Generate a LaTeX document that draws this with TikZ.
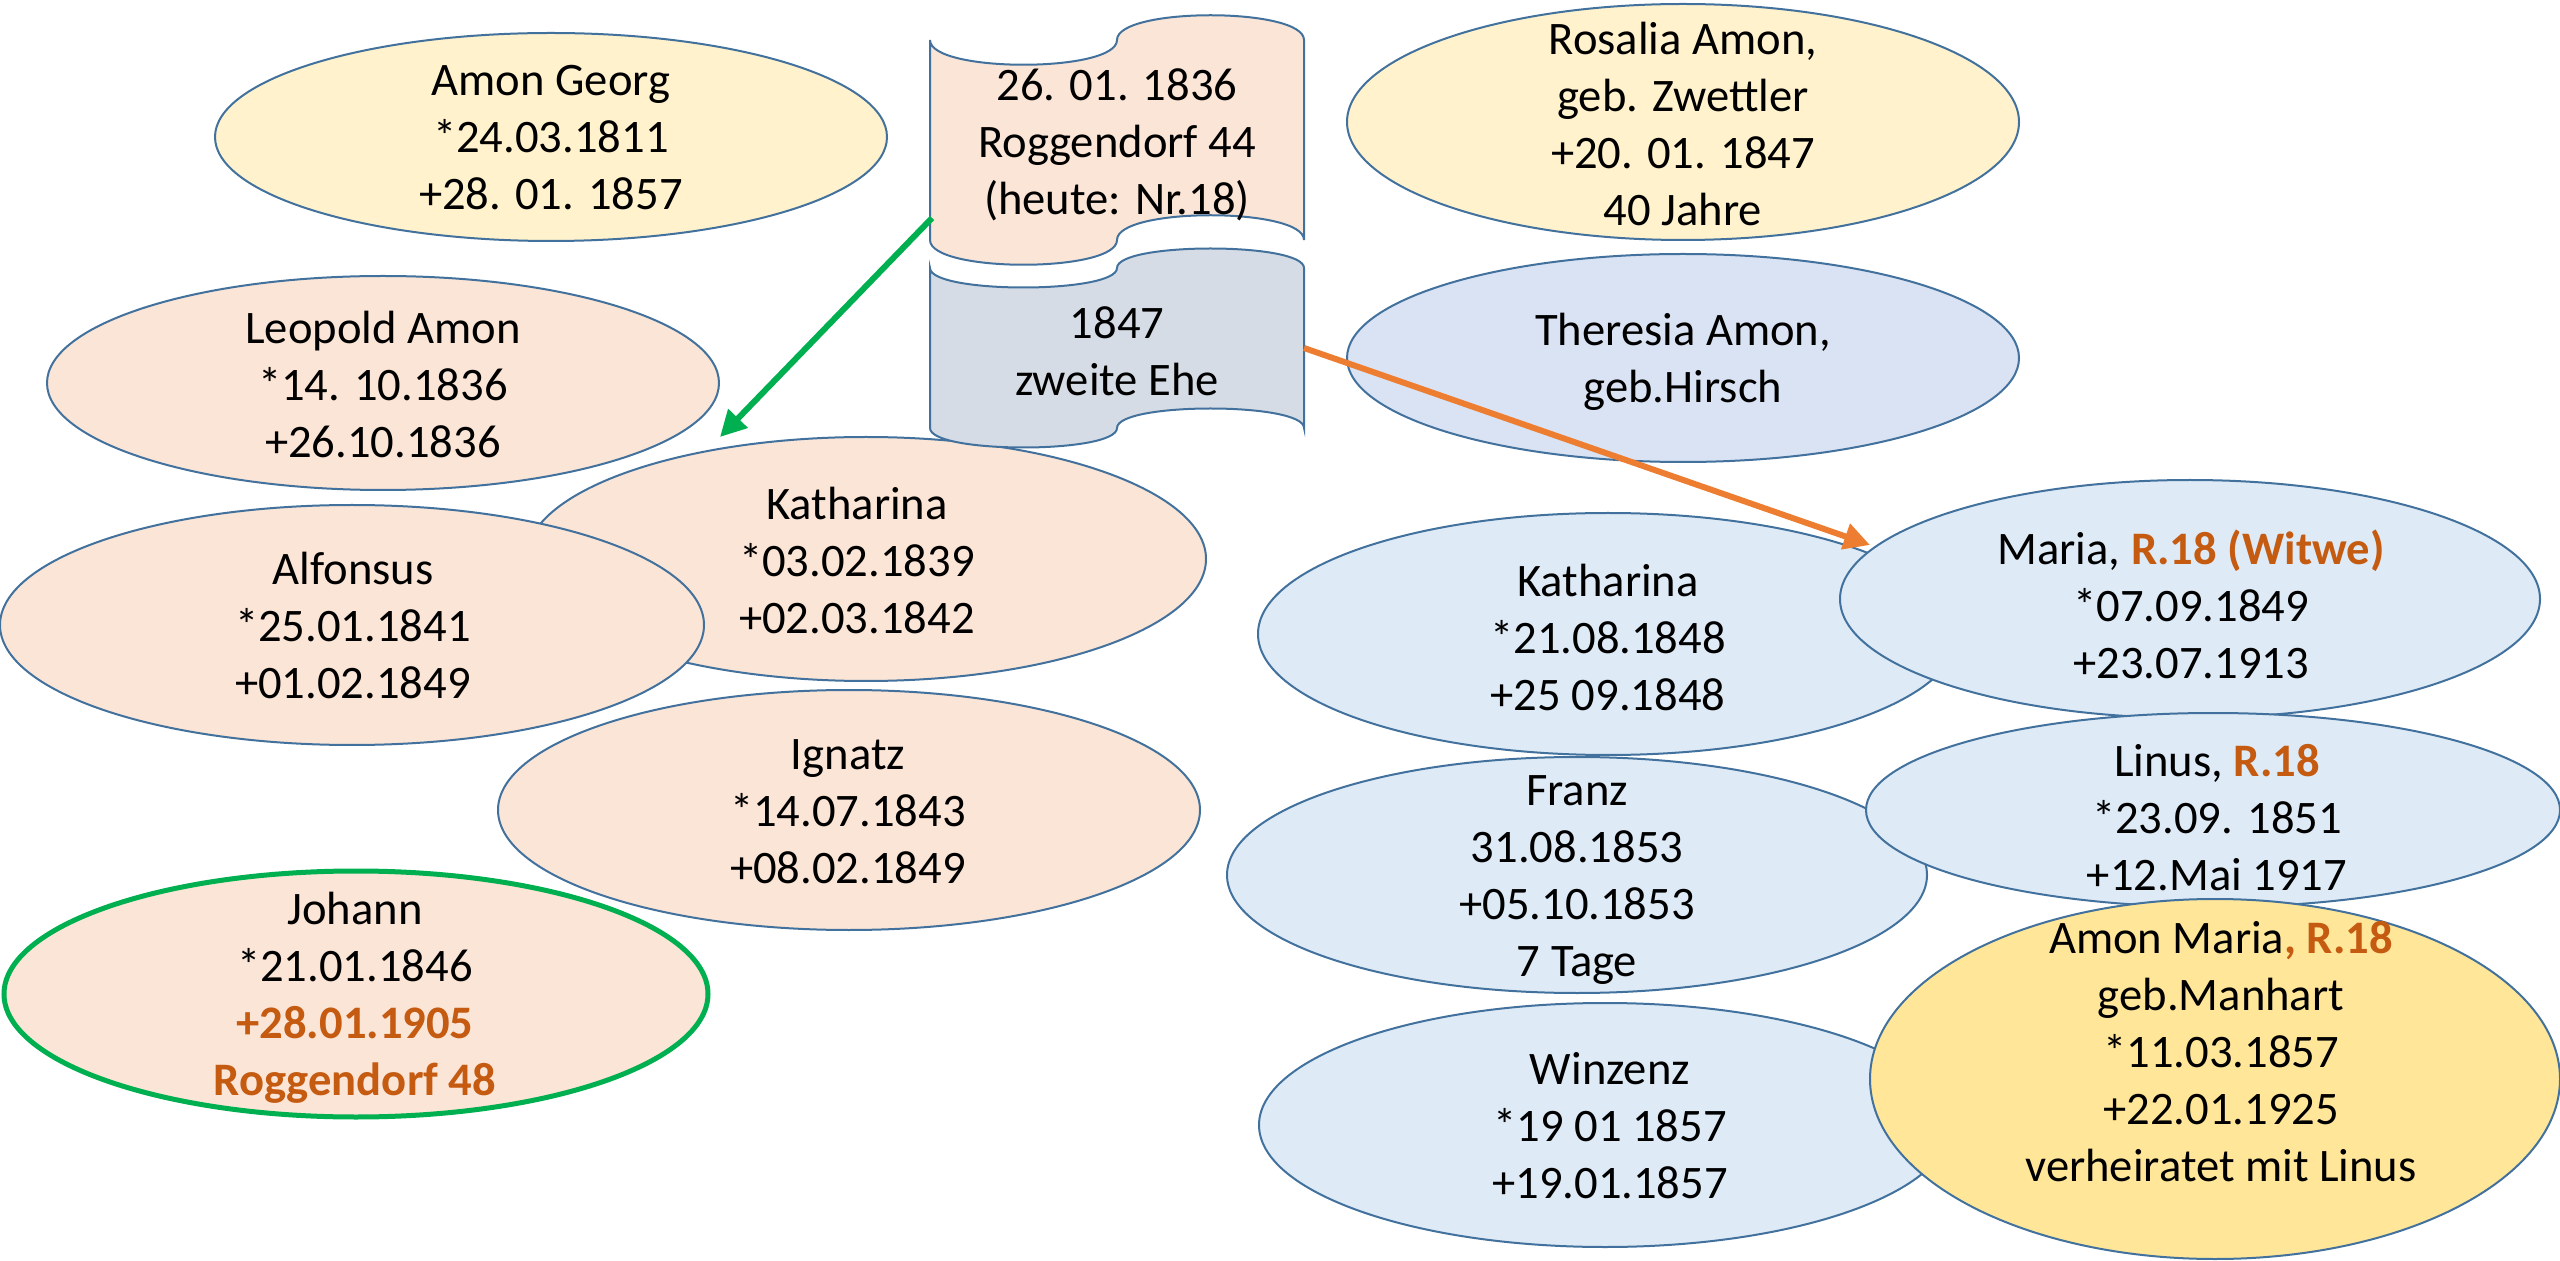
\documentclass[tikz,border=0pt]{standalone}
\usepackage{fontspec}
\setmainfont{Carlito}
\usetikzlibrary{shapes.geometric, arrows.meta}

\definecolor{outl}{HTML}{41719C}
\definecolor{peach}{HTML}{FBE5D6}
\definecolor{cream}{HTML}{FFF2CC}
\definecolor{gold}{HTML}{FFE699}
\definecolor{lav}{HTML}{DAE3F3}
\definecolor{sky}{HTML}{DEEBF7}
\definecolor{slate}{HTML}{D6DCE5}
\definecolor{rust}{HTML}{C55A11}
\definecolor{grn}{HTML}{00B050}
\definecolor{orng}{HTML}{ED7D31}

\newcommand{\hl}[1]{\textbf{\textcolor{rust}{#1}}}

\begin{document}
\begin{tikzpicture}[x=0.5pt, y=-0.5pt,
    person/.style n args={3}{ellipse, draw=outl, line width=1pt, fill=#1,
        minimum width=#2pt, minimum height=#3pt, inner sep=0pt},
    txt/.style={align=center, inner sep=0pt, font=\fontsize{23.3}{28.5}\selectfont},
    tape/.style={draw=outl, line width=1pt},
    link/.style={line width=3pt, -{Triangle[length=13pt, width=13pt]}}]
    \useasboundingbox (0,0) rectangle (2560,1261);

    % Parents
    \node[person={cream}{336}{104}] (georg) at (551,137) {};
    \node[person={cream}{336}{118}] (rosalia) at (1683,122) {};
    \node[person={lav}{336}{104}] (theresia) at (1683,358) {};
    \node[txt] (georg-t) at (551,138) {Amon Georg\\{*}24.03.1811\\+28. 01. 1857};
    \node[txt] (rosalia-t) at (1683,124) {Rosalia Amon,\\ geb. Zwettler\\+20. 01. 1847\\40 Jahre};
    \node[txt] (theresia-t) at (1683,362) {Theresia Amon,\\geb.Hirsch};

    % Children of the first marriage
    \node[person={peach}{336}{107}] (leopold) at (383,383) {};
    \node[person={peach}{340}{122}] (kath1) at (866,559) {};
    \node[person={peach}{352}{120}] (alfonsus) at (352,625) {};
    \node[person={peach}{351}{120}] (ignatz) at (849,810) {};
    \node[person={peach}{352}{123}, draw=grn, line width=2.5pt] (johann) at (356,994) {};
    \node[txt] (leopold-t) at (383,385) {Leopold Amon\\{*}14. 10.1836\\+26.10.1836};
    \node[txt] (kath1-t) at (857,561) {Katharina\\{*}03.02.1839\\+02.03.1842};
    \node[txt] (alfonsus-t) at (353,626) {Alfonsus\\{*}25.01.1841\\+01.02.1849};
    \node[txt] (ignatz-t) at (848,812) {Ignatz\\{*}14.07.1843\\+08.02.1849};
    \node[txt] (johann-t) at (355,998) {Johann\\{*}21.01.1846\\\hl{+28.01.1905}\\\hl{Roggendorf 48}};

    % Children of the second marriage
    \node[person={sky}{350}{121}] (kath2) at (1608,634) {};
    \node[person={sky}{350}{119}] (maria) at (2190,599) {};
    \node[person={sky}{350}{118}] (franz) at (1577,875) {};
    \node[person={sky}{347}{97}] (linus) at (2213,810) {};
    \node[person={sky}{346}{122}] (winzenz) at (1605,1125) {};
    \node[person={gold}{345}{180}] (manhart) at (2215,1079) {};
    \node[txt] (kath2-t) at (1608,638) {Katharina\\{*}21.08.1848\\+25 09.1848};
    \node[txt] (maria-t) at (2191,604) {Maria, \hl{R.18 (Witwe)}\\{*}07.09.1849\\+23.07.1913};
    \node[txt] (franz-t) at (1577,880) {Franz\\31.08.1853\\+05.10.1853\\7 Tage};
    \node[txt] (linus-t) at (2217,818) {Linus, \hl{R.18}\\{*}23.09. 1851\\+12.Mai 1917};
    \node[txt] (winzenz-t) at (1610,1126) {Winzenz\\{*}19 01 1857\\+19.01.1857};
    \node[txt] (manhart-t) at (2221,1052) {Amon Maria\hl{, R.18}\\geb.Manhart\\{*}11.03.1857\\+22.01.1925\\verheiratet mit Linus};

    % Marriages
    \draw[tape, fill=peach] (930,40) .. controls (930,73) and (1117,73) .. (1117,40)
        .. controls (1117,7) and (1304,7) .. (1304,40) -- (1304,240)
        .. controls (1304,207) and (1117,207) .. (1117,240)
        .. controls (1117,273) and (930,273) .. (930,240) -- cycle;
    \draw[tape, fill=slate] (930,268) .. controls (930,294) and (1117,294) .. (1117,268)
        .. controls (1117,242) and (1304,242) .. (1304,268) -- (1304,428)
        .. controls (1304,402) and (1117,402) .. (1117,428)
        .. controls (1117,454) and (930,454) .. (930,428) -- cycle;
    \node[txt] (wed1-t) at (1117,145) {26. 01. 1836\\Roggendorf 44\\(heute: Nr.18)};
    \node[txt] (wed2-t) at (1117,351) {1847\\zweite Ehe};

    % Draw connections
    \coordinate (wed1-out) at (932,218);
    \coordinate (leo-gap) at (720,437);
    \coordinate (wed2-out) at (1304,348);
    \coordinate (maria-in) at (1870,545);
    \draw[link, grn] (wed1-out) -- (leo-gap);
    \draw[link, orng] (wed2-out) -- (maria-in);
\end{tikzpicture}
\end{document}
